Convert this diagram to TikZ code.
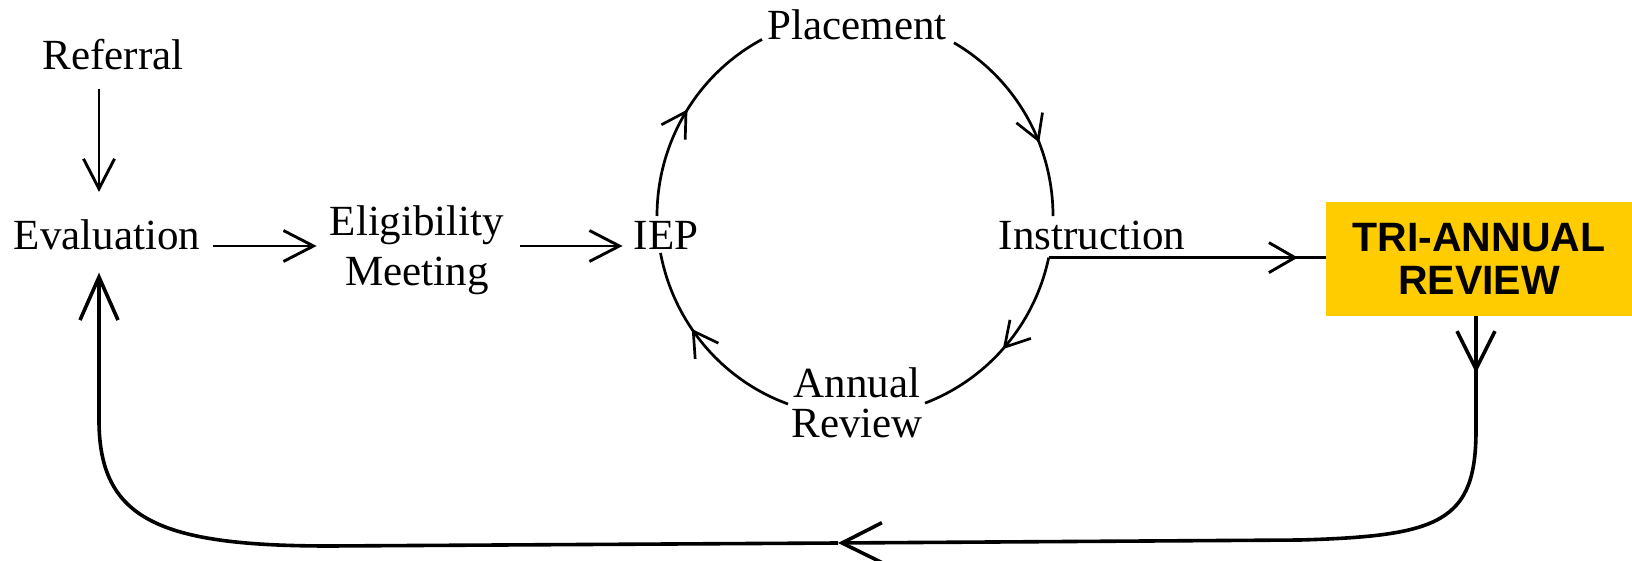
\documentclass[tikz,border=0pt]{standalone}
\usepackage{fontspec}
\setmainfont{Liberation Serif}
\newfontfamily\arialfont{Liberation Sans}
\usetikzlibrary{arrows.meta,decorations.markings,calc}
\definecolor{triyellow}{HTML}{FFCC00}
\tikzset{
  cyctip/.tip={Straight Barb[length=24pt,width=28pt]},
  midtip/.tip={Straight Barb[length=30pt,width=31pt]},
  bigtip/.tip={Straight Barb[length=40pt,width=40pt]},
}
\begin{document}
\begin{tikzpicture}[x=1pt,y=-1pt,
  lbl/.style={inner sep=0pt, font=\fontsize{43}{50}\selectfont},
  conn/.style={line width=2.9pt},
  loopline/.style={line width=3.6pt},
  cyc/.style={line width=2.7pt, postaction={decorate}},
  tribox/.style={fill=triyellow, minimum width=306pt, minimum height=114pt, inner sep=0pt, align=center,
    font=\arialfont\bfseries\fontsize{41}{43}\selectfont},
]
\useasboundingbox (0,0) rectangle (1632,561);

% nodes
\node[lbl, anchor=base] (ref) at (113,70) {Referral};
\node[lbl, anchor=base] (eval) at (107,250) {Evaluation};
\node[lbl, align=center] (elig) at (417,250) {Eligibility\\Meeting};
\node[lbl, anchor=base] (iep) at (666,250) {IEP};
\node[lbl, anchor=base] (place) at (857,40) {Placement};
\node[lbl, anchor=base] (instr) at (1092,250) {Instruction};
\node[lbl, align=center, font=\fontsize{43}{40}\selectfont] (annual) at (857,403) {Annual\\Review};
\node[tribox] (trib) at (1479,259) {TRI-ANNUAL\\REVIEW};

% helper coordinates
\coordinate (lx) at (99,0);
\coordinate (ay) at (0,246);
\coordinate (rx) at (1476,0);
\coordinate (a1) at (657,216);
\coordinate (b1) at (954,42.8);
\coordinate (c1) at (1048.7,257.6);
\coordinate (d1) at (788,404);
\coordinate (rc) at (1476,430);
\coordinate (rb) at (1300,540);
\coordinate (bm) at (838,543);
\coordinate (lb) at (330,546);
\coordinate (lc) at (99,420);

% cycle arcs
\draw[cyc, decoration={markings, mark=at position 0.52 with {\arrow{cyctip}}}]
  (a1) arc[start angle=-180, end angle=-242, x radius=198pt, y radius=200pt];
\draw[cyc, decoration={markings, mark=at position 0.64 with {\arrow{cyctip}}}]
  (b1) arc[start angle=-300, end angle=-360, x radius=198pt, y radius=200pt];
\draw[cyc, decoration={markings, mark=at position 0.52 with {\arrow{cyctip}}}]
  (c1) arc[start angle=-12, end angle=-69.3, x radius=198pt, y radius=200pt];
\draw[cyc, decoration={markings, mark=at position 0.6 with {\arrow{cyctip}}}]
  (d1) arc[start angle=-109.8, end angle=-169.3, x radius=198pt, y radius=200pt];

% straight connectors
\draw[conn, -{midtip}, shorten <=18pt, shorten >=28pt] (ref.south -| lx) -- (eval.north -| lx);
\draw[conn, -{midtip}, shorten <=13pt, shorten >=13pt] (eval.east |- ay) -- (elig.west |- ay);
\draw[conn, -{midtip}, shorten <=16pt, shorten >=11pt] (elig.east |- ay) -- (iep.west |- ay);
\draw[conn, postaction={decorate},
  decoration={markings, mark=at position -28pt with {\arrow{Straight Barb[length=26pt,width=30pt]}}}]
  (c1) -- (trib.west |- c1);

% return loop
\draw[loopline, postaction={decorate},
  decoration={markings, mark=at position 57pt with {\arrow{Straight Barb[length=38pt,width=38pt]}}},
  -{bigtip}]
  (trib.south -| rx) -- (rc) .. controls (1476,522) and (1440,536) .. (rb) -- (bm);
\draw[loopline, -{Straight Barb[length=43pt,width=38pt]}, shorten >=22pt]
  (bm) -- (lb) .. controls (160,546) and (99,520) .. (lc) -- (eval.south -| lx);
\end{tikzpicture}
\end{document}
